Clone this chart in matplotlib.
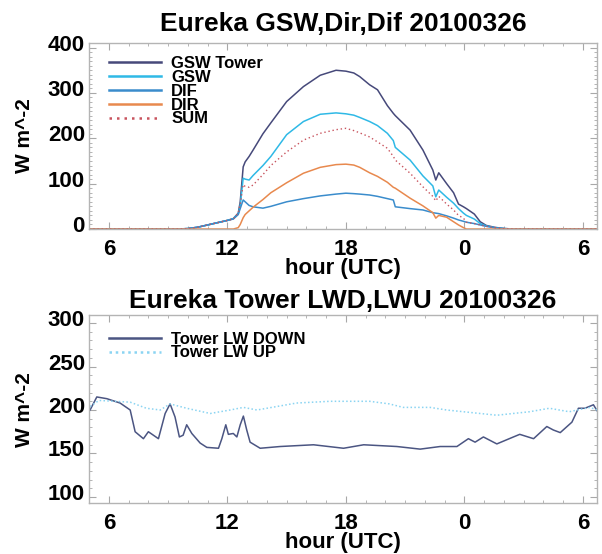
import numpy as np
import matplotlib
matplotlib.use('Agg')
from matplotlib import pyplot as plt
from matplotlib.ticker import MultipleLocator, FixedLocator, FuncFormatter
import matplotlib.transforms as mtransforms

plt.rcParams['font.family'] = ['Liberation Sans', 'DejaVu Sans']
plt.rcParams['font.weight'] = 'bold'

FONTSIZE = 16
FONTSIZE_TITLE = 19
FONTSIZE_LEGEND = 12

# shortwave panel, hours since 0 UTC of 20100326
sw_hours = [5.0, 9.5, 10.0, 10.5, 11.0, 11.5, 12.0, 12.3, 12.55, 12.65, 12.8, 12.9,
            13.1, 13.3, 13.8, 14.2, 15.0, 15.85, 16.7, 17.5, 18.0, 18.4, 18.7, 19.2,
            19.6, 20.1, 20.4, 20.5, 21.25, 21.9, 22.4, 22.55, 22.7, 23.1, 23.45, 23.7,
            23.95, 24.1, 24.5, 24.8, 25.1, 25.5, 26.0, 26.5, 30.7]
gsw_tower = [0, 0, 1, 4, 9, 14, 19, 23, 35, 60, 137, 148,
             160, 174, 210, 234, 281, 314, 339, 350, 348, 344, 336, 318,
             307, 272, 255, 250, 218, 174, 130, 108, 124, 100, 80, 55,
             49, 45, 33, 16, 8, 4, 1, 0, 0]
gsw = [0, 0, 1, 4, 9, 14, 19, 23, 33, 52, 112, 110,
       108, 118, 140, 160, 208, 237, 253, 256, 254, 251, 246, 237,
       228, 211, 195, 180, 152, 117, 95, 71, 86, 70, 57, 45,
       35, 30, 22, 12, 7, 3, 1, 0, 0]
dif = [0, 0, 1, 4, 9, 14, 19, 22, 32, 45, 64, 60,
       52, 49, 46, 50, 60, 67, 73, 77, 79, 78, 77, 75,
       72, 67, 64, 49, 45, 42, 36, 35, 34, 29, 24, 20,
       17, 15, 12, 9, 6, 3, 1, 0, 0]
dir_ = [0, 0, 0, 0, 0, 0, 0, 0, 3, 10, 25, 32,
        40, 48, 65, 80, 102, 123, 136, 142, 143, 141, 136, 124,
        116, 103, 92, 90, 68, 51, 36, 24, 30, 26, 16, 9,
        3, 0, 0, 0, 0, 0, 0, 0, 0]
sw_sum = [0, 0, 1, 4, 9, 14, 19, 22, 35, 55, 98, 94,
          92, 97, 120, 140, 170, 196, 211, 219, 222, 217, 212, 203,
          192, 178, 160, 152, 123, 93, 72, 62, 72, 55, 42, 30,
          24, 15, 12, 9, 6, 3, 1, 0, 0]

# longwave panel
lwd_hours = [5.05, 5.39, 5.9, 6.57, 7.08, 7.33, 7.75, 8.0, 8.51, 8.85, 9.1, 9.35,
             9.57, 9.76, 9.94, 10.2, 10.62, 10.96, 11.55, 11.72, 11.92, 12.05, 12.3,
             12.48, 12.65, 12.81, 12.98, 13.15, 13.66, 14.67, 16.36, 17.88, 18.9,
             20.58, 21.76, 22.77, 23.62, 24.2, 24.54, 24.96, 25.64, 26.48, 26.8,
             27.5, 28.17, 28.5, 28.85, 29.44, 29.77, 30.1, 30.53, 30.72]
lw_down = [200, 215, 213, 208, 200, 175, 167, 175, 167, 196, 207, 192,
           169, 171, 183, 173, 162, 157, 156, 167, 183, 172, 173,
           169, 183, 193, 177, 163, 156, 158, 160, 156, 160,
           158, 155, 158, 158, 167, 163, 169, 161, 169, 172,
           167, 181, 177, 174, 186, 202, 202, 206, 199]
lwu_hours = [5.05, 5.5, 7.08, 7.9, 8.6, 9.1, 9.94, 11.13, 12.14, 12.81, 13.5, 15.5,
             17.19, 19.2, 20.2, 20.9, 22.26, 23.1, 24.79, 25.64, 27.3, 28.3, 29.3,
             30.36, 30.72]
lw_up = [204, 211, 209, 202, 200, 207, 202, 196, 200, 203, 200, 208,
         210, 210, 207, 203, 203, 200, 196, 194, 198, 202, 198,
         203, 200]

XLIM = (5.0, 30.72)


def hour_label(x, pos):
    return f'{int(round(x)) % 24}'


def style_axes(ax, ylim, ymajor, yminor):
    ax.set_xlim(*XLIM)
    ax.set_ylim(*ylim)
    ax.xaxis.set_major_locator(FixedLocator([6, 12, 18, 24, 30]))
    ax.xaxis.set_major_formatter(FuncFormatter(hour_label))
    ax.xaxis.set_minor_locator(MultipleLocator(1))
    ax.yaxis.set_major_locator(MultipleLocator(ymajor))
    ax.yaxis.set_minor_locator(MultipleLocator(yminor))
    for sp in ax.spines.values():
        sp.set_color('#b4b4b4')
        sp.set_linewidth(1.0)
    ax.tick_params(which='both', direction='in', top=True, right=True,
                   color='#a8a8a8', labelsize=FONTSIZE)
    ax.tick_params(which='major', length=5, width=0.8)
    ax.tick_params(which='minor', length=2.5, width=0.6)
    ax.tick_params(axis='x', pad=7)
    ax.tick_params(axis='y', pad=3)
    ax.set_xlabel('hour (UTC)', fontsize=FONTSIZE, fontweight='bold', labelpad=-1)
    ax.set_ylabel('W m^-2', fontsize=15, fontweight='bold', labelpad=10)


def raise_ylabels(fig, ax, points=3.6):
    offset = mtransforms.ScaledTranslation(0, points / 72, fig.dpi_scale_trans)
    for lab in ax.get_yticklabels():
        lab.set_transform(lab.get_transform() + offset)


def add_legend(ax, spacing, anchor_y):
    leg = ax.legend(loc='upper left', frameon=False, fontsize=FONTSIZE_LEGEND,
                    handlelength=3.1, handletextpad=0.6, labelspacing=spacing,
                    borderpad=0, borderaxespad=0, bbox_to_anchor=(0.04, anchor_y))
    for h in leg.legend_handles:
        h.set_linewidth(1.8)
    return leg


fig = plt.figure(figsize=(6.02, 5.54), dpi=100)
ax1 = fig.add_axes([0.148, 0.5866, 0.844, 0.3357])
ax2 = fig.add_axes([0.148, 0.092, 0.844, 0.339])

ax1.plot(sw_hours, gsw_tower, color='#46497a', lw=1.1, label='GSW Tower')
ax1.plot(sw_hours, gsw, color='#2fb9e6', lw=1.1, label='GSW')
ax1.plot(sw_hours, dif, color='#3a8ccc', lw=1.1, label='DIF')
ax1.plot(sw_hours, dir_, color='#e8894e', lw=1.1, label='DIR')
ax1.plot(sw_hours, sw_sum, color='#c8545e', lw=1.0, ls=(0, (1, 2)), label='SUM')
style_axes(ax1, (0, 410), 100, 10)
ax1.set_title('Eureka GSW,Dir,Dif 20100326', fontsize=FONTSIZE_TITLE,
              fontweight='bold', pad=9)
add_legend(ax1, -0.07, 0.93)

ax2.plot(lwd_hours, lw_down, color='#4b5582', lw=1.1, label='Tower LW DOWN')
ax2.plot(lwu_hours, lw_up, color='#8ad4f2', lw=1.1, ls=(0, (1, 1.5)), label='Tower LW UP')
style_axes(ax2, (93, 309), 50, 10)
ax2.set_title('Eureka Tower LWD,LWU 20100326', fontsize=FONTSIZE_TITLE,
              fontweight='bold', pad=5)
add_legend(ax2, -0.1, 0.91)

for ax in (ax1, ax2):
    raise_ylabels(fig, ax)

plt.savefig('out.png', dpi=100)
